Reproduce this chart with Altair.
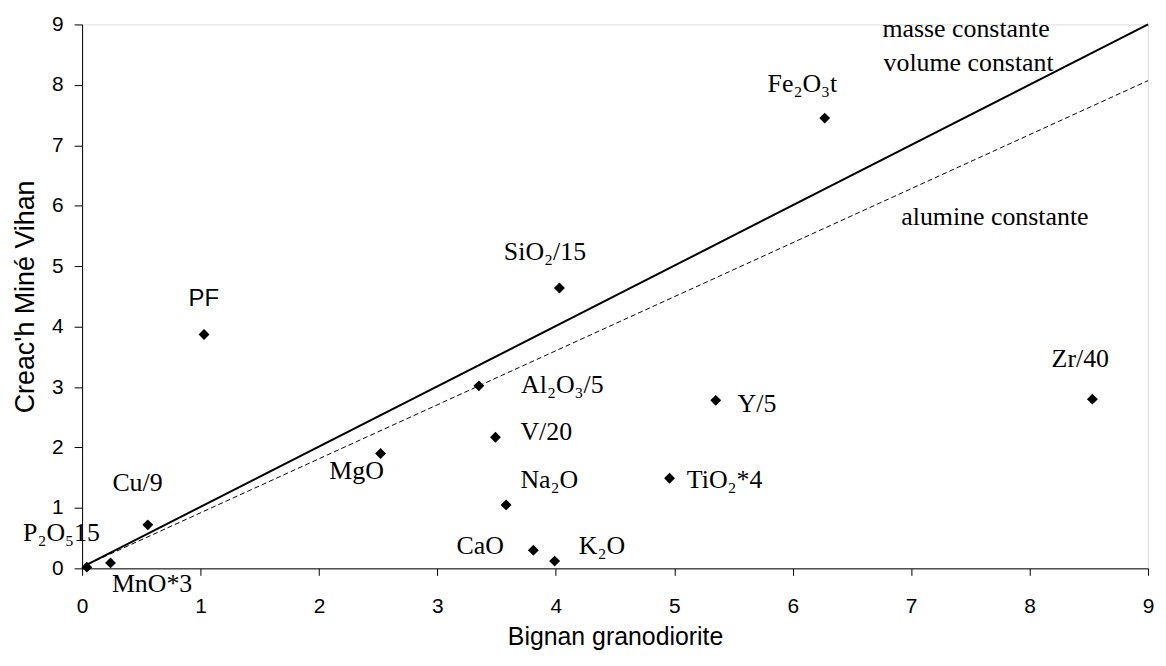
import altair as alt
import pandas as pd

# --- data ---
elements = ["P₂O₅15", "MnO*3", "Cu/9", "PF", "MgO", "Al₂O₃/5", "V/20", "Na₂O",
            "CaO", "K₂O", "TiO₂*4", "Y/5", "SiO₂/15", "Fe₂O₃t", "Zr/40"]
bignan = [0.04, 0.24, 0.555, 1.03, 2.52, 3.35, 3.49, 3.58, 3.81, 3.99, 4.96, 5.35, 4.03, 6.27, 8.53]
creach = [0.02, 0.09, 0.72, 3.87, 1.90, 3.02, 2.17, 1.05, 0.30, 0.12, 1.49, 2.78, 4.64, 7.45, 2.80]

# label anchor positions (data units, text baseline centre)
label_x = [-0.174, 0.591, 0.468, 1.028, 2.317, 4.055, 3.919, 3.945,
           3.362, 4.389, 5.425, 5.698, 3.908, 6.082, 8.428]
label_y = [0.455, -0.395, 1.278, 4.338, 1.471, 2.90, 2.13, 1.334,
           0.236, 0.236, 1.334, 2.587, 5.096, 7.88, 3.328]

# reference lines
line_x = [0.05, 9.0]
masse_y = [0.07, 9.0]      # masse constante / volume constant
alumine_y = [0.07, 8.07]   # alumine constante

line_labels = ["masse constante", "volume constant", "alumine constante"]
line_label_x = [7.463, 7.485, 7.707]
line_label_y = [8.786, 8.226, 5.689]

ticks = list(range(10))

pts = pd.DataFrame({"element": elements, "x": bignan, "y": creach,
                    "lx": label_x, "ly": label_y})
solid = pd.DataFrame({"x": line_x, "y": masse_y})
dashed = pd.DataFrame({"x": line_x, "y": alumine_y})
llab = pd.DataFrame({"t": line_labels, "x": line_label_x, "y": line_label_y})

SANS = "Liberation Sans"
SERIF = "Liberation Serif"

xscale = alt.Scale(domain=[0, 9], nice=False, zero=False)
yscale = alt.Scale(domain=[0, 9], nice=False, zero=False)

xaxis = alt.Axis(values=ticks, format="d", grid=False, tickSize=7, tickColor="black",
                 domainColor="black", labelFont=SANS, labelFontSize=21,
                 labelColor="black", labelPadding=20,
                 labelFlush=False, labelOverlap=False,
                 title="Bignan granodiorite", titleFont=SANS, titleFontSize=25,
                 titleFontWeight="normal", titleColor="black",
                 titleBaseline="alphabetic", titleY=77)
yaxis = alt.Axis(values=ticks, format="d", grid=False, tickSize=8, tickColor="black",
                 domainColor="black", labelFont=SANS, labelFontSize=21,
                 labelColor="black", labelPadding=11, labelFlush=False,
                 labelOverlap=False,
                 title="Creac'h Miné Vihan", titleFont=SANS, titleFontSize=27,
                 titleFontWeight="normal", titleColor="black",
                 titleBaseline="alphabetic", titleX=-49)

x_enc = alt.X("x:Q", scale=xscale, axis=xaxis)
y_enc = alt.Y("y:Q", scale=yscale, axis=yaxis)

solid_line = alt.Chart(solid).mark_line(color="black", strokeWidth=2).encode(
    x=x_enc, y=y_enc)
dashed_line = alt.Chart(dashed).mark_line(color="black", strokeWidth=1,
                                          strokeDash=[5, 3]).encode(
    x=alt.X("x:Q", scale=xscale), y=alt.Y("y:Q", scale=yscale))

points = alt.Chart(pts).mark_point(shape="diamond", filled=True, size=120,
                                   color="black", opacity=1).encode(
    x=alt.X("x:Q", scale=xscale), y=alt.Y("y:Q", scale=yscale))

serif_labels = alt.Chart(pts).transform_filter(
    alt.datum.element != "PF").mark_text(
    font=SERIF, fontSize=26, color="black", align="center",
    baseline="alphabetic").encode(
    x=alt.X("lx:Q", scale=xscale), y=alt.Y("ly:Q", scale=yscale),
    text="element:N")

sans_labels = alt.Chart(pts).transform_filter(
    alt.datum.element == "PF").mark_text(
    font=SANS, fontSize=24, color="black", align="center",
    baseline="alphabetic").encode(
    x=alt.X("lx:Q", scale=xscale), y=alt.Y("ly:Q", scale=yscale),
    text="element:N")

line_text = alt.Chart(llab).mark_text(
    font=SERIF, fontSize=26, color="black", align="center",
    baseline="alphabetic").encode(
    x=alt.X("x:Q", scale=xscale), y=alt.Y("y:Q", scale=yscale), text="t:N")

chart = alt.layer(solid_line, dashed_line, points, serif_labels, sans_labels,
                  line_text).properties(
    width=1072, height=547,
    autosize=alt.AutoSizeParams(type="none"),
    padding={"left": 74.5, "top": 14.7, "right": 10, "bottom": 87},
).configure_view(stroke=None).configure(background="white")

chart.save("out.html", embed_options={"renderer": "svg", "actions": False})
